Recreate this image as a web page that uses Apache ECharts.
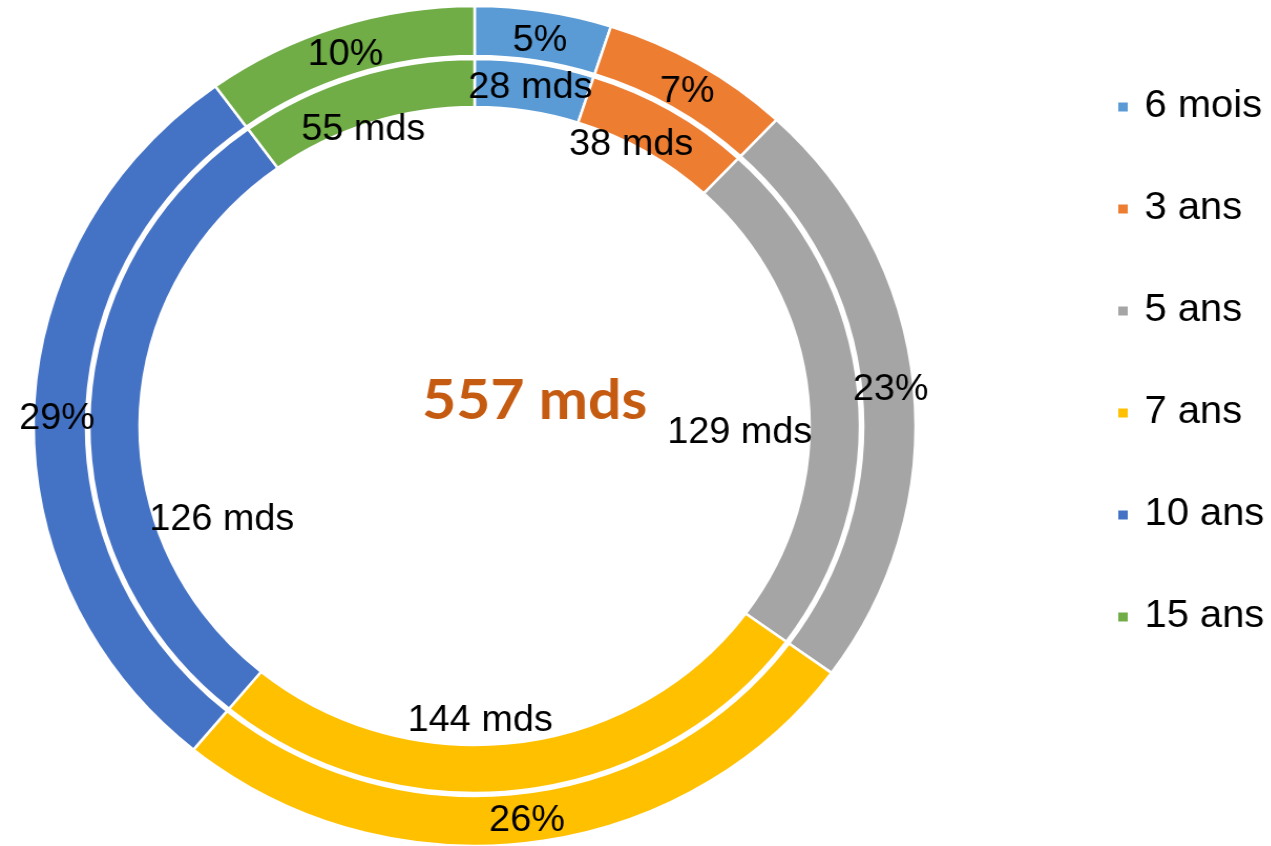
<!DOCTYPE html>
<html>
<head>
<meta charset="utf-8">
<title>Encours par maturité</title>
<script src="https://cdn.jsdelivr.net/npm/echarts@6/dist/echarts.min.js"></script>
<style>
  html, body { margin: 0; padding: 0; background: #fff; overflow: hidden; }
  /* the original slide is a little wider than tall: stretch the chart 5% */
  #chart { width: 1210px; height: 846px; transform: scaleX(1.05); transform-origin: 0 0; }
</style>
</head>
<body>
<div id="chart"></div>
<script>
// maturités et montants (en milliards)
var maturites = ['6 mois', '3 ans', '5 ans', '7 ans', '10 ans', '15 ans']
var parts = [5, 7, 23, 26, 29, 10]
var montants = [28, 38, 129, 144, 126, 55]
var total = 557
var couleurs = ['#5B9BD5', '#ED7D31', '#A5A5A5', '#FFC000', '#4472C4', '#70AD47']

// petits décalages des étiquettes (comme sur l'original)
var decalagesParts = [[0, 8], [0, 9], [0, 2], [0, 0], [0, 6], [0, 8]]
var decalagesMontants = [[-1, 4], [-27, 17], [-92, 40], [-38, -48], [105, 105], [1, 33]]

var cx = 452
var cy = 426

function ringData() {
  var out = []
  for (var i = 0; i < maturites.length; i++) {
    out.push({
      name: maturites[i],
      value: parts[i],
      itemStyle: { color: couleurs[i] }
    })
  }
  return out
}

function nudge(tab) {
  return function (p) {
    var d = tab[p.dataIndex]
    return { dx: d[0], dy: d[1] }
  }
}

var chart = echarts.init(document.getElementById('chart'))
chart.setOption({
  backgroundColor: '#fff',
  animation: false,
  textStyle: { fontFamily: 'Liberation Sans' },
  title: {
    text: total + ' mds',
    left: 397,
    top: 368,
    textStyle: {
      fontFamily: 'Lato',
      fontWeight: 'bold',
      fontSize: 56,
      color: '#C55A11'
    }
  },
  legend: {
    orient: 'vertical',
    left: 1058,
    top: 82,
    itemWidth: 11,
    itemHeight: 11,
    itemGap: 62,
    icon: 'rect',
    textStyle: {
      fontFamily: 'Liberation Sans',
      fontSize: 38,
      lineHeight: 40,
      color: '#000',
      padding: [0, 0, 0, 10]
    },
    data: maturites
  },
  series: [
    {
      name: 'parts',
      type: 'pie',
      center: [cx, cy],
      radius: [370, 420],
      startAngle: 90,
      clockwise: true,
      silent: true,
      itemStyle: { borderColor: '#fff', borderWidth: 2.5 },
      label: {
        show: true,
        position: 'inside',
        fontSize: 36,
        color: '#000',
        formatter: function (p) { return parts[p.dataIndex] + '%' }
      },
      labelLayout: nudge(decalagesParts),
      labelLine: { show: false },
      emphasis: { disabled: true },
      data: ringData()
    },
    {
      name: 'montants',
      type: 'pie',
      center: [cx, cy],
      radius: [319, 367],
      startAngle: 90,
      clockwise: true,
      silent: true,
      itemStyle: { borderColor: '#fff', borderWidth: 2.5 },
      label: {
        show: true,
        position: 'inside',
        fontSize: 36,
        color: '#000',
        formatter: function (p) { return montants[p.dataIndex] + ' mds' }
      },
      labelLayout: nudge(decalagesMontants),
      labelLine: { show: false },
      emphasis: { disabled: true },
      data: ringData()
    }
  ]
})
</script>
</body>
</html>
